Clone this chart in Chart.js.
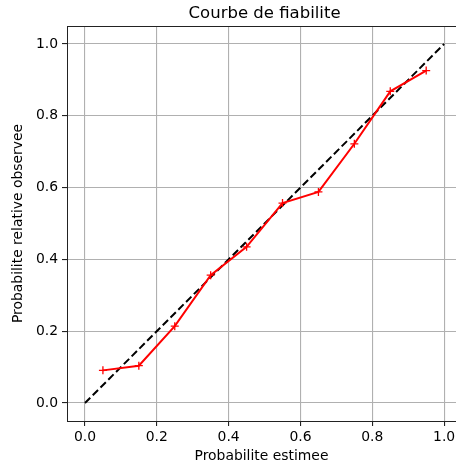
<!DOCTYPE html>
<html>
<head>
<meta charset="utf-8">
<script src="https://cdn.jsdelivr.net/npm/chart.js@4/dist/chart.umd.min.js"></script>
<style>
  html, body { margin: 0; padding: 0; background: #fff; }
  #wrap { width: 456px; height: 466px; }
</style>
</head>
<body>
<div id="wrap"><canvas id="chart" width="456" height="466"></canvas></div>
<script>
// donnees
const binCenters = [0.05, 0.15, 0.25, 0.35, 0.45, 0.55, 0.65, 0.75, 0.85, 0.95];
const observed = [0.091, 0.104, 0.214, 0.356, 0.435, 0.557, 0.588, 0.722, 0.868, 0.926];
const diagX = [0, 1];
const diagY = [0, 1];
const tickValues = [0, 0.2, 0.4, 0.6, 0.8, 1.0];

const titleText = 'Courbe de fiabilite';
const xLabel = 'Probabilite estimee';
const yLabel = 'Probabilite relative observee';

const FONT = 'DejaVu Sans';

// cadre du haut + titre centre sur les axes
const framePlugin = {
    id: 'frame',
    afterDraw(chart) {
        const { ctx, chartArea, scales } = chart;
        ctx.save();
        ctx.strokeStyle = '#222';
        ctx.lineWidth = 1;
        ctx.beginPath();
        ctx.moveTo(chartArea.left, chartArea.top + 0.5);
        ctx.lineTo(chartArea.right, chartArea.top + 0.5);
        ctx.stroke();

        ctx.fillStyle = '#000';
        ctx.font = '16.5px "' + FONT + '"';
        ctx.textAlign = 'center';
        ctx.textBaseline = 'alphabetic';
        ctx.fillText(titleText, scales.x.getPixelForValue(0.5), chartArea.top - 8);
        ctx.restore();
    }
};

function setTicks(scale) {
    scale.ticks = tickValues.map(v => ({ value: v }));
}

const ctx = document.getElementById('chart').getContext('2d');
new Chart(ctx, {
    type: 'line',
    data: {
        datasets: [
            {
                label: 'diagonale',
                data: diagX.map((x, i) => ({ x: x, y: diagY[i] })),
                borderColor: '#000',
                borderWidth: 2,
                borderDash: [7.5, 3.5],
                pointRadius: 0,
                fill: false,
                order: 2
            },
            {
                label: 'fiabilite',
                data: binCenters.map((x, i) => ({ x: x, y: observed[i] })),
                borderColor: '#ff0000',
                borderWidth: 2,
                pointStyle: 'cross',
                pointRadius: 4,
                pointBorderWidth: 1.3,
                pointBorderColor: '#ff0000',
                pointBackgroundColor: '#ff0000',
                fill: false,
                order: 1
            }
        ]
    },
    options: {
        responsive: false,
        animation: false,
        layout: { autoPadding: false, padding: { top: 26, right: 0, left: 0, bottom: 0 } },
        plugins: {
            legend: { display: false },
            tooltip: { enabled: false },
            title: { display: false }
        },
        scales: {
            x: {
                type: 'linear',
                min: -0.05,
                max: 1.033,
                afterBuildTicks: setTicks,
                afterFit: s => { s.height = 45; s.paddingRight = 0; s.paddingLeft = 0; },
                grid: {
                    color: '#b0b0b0',
                    lineWidth: 1.1,
                    tickColor: '#222',
                    tickLength: 5,
                    drawTicks: true
                },
                border: { color: '#222', width: 1 },
                ticks: {
                    color: '#000',
                    padding: 3,
                    font: { family: FONT, size: 13.9 },
                    callback: v => v.toFixed(1)
                },
                title: {
                    display: true,
                    text: xLabel,
                    color: '#000',
                    font: { family: FONT, size: 13.9 },
                    padding: { top: 0, bottom: 1 }
                }
            },
            y: {
                type: 'linear',
                min: -0.05,
                max: 1.05,
                afterBuildTicks: setTicks,
                afterFit: s => { s.width = 67; s.paddingTop = 0; s.paddingBottom = 0; },
                grid: {
                    color: '#b0b0b0',
                    lineWidth: 1.1,
                    tickColor: '#222',
                    tickLength: 5,
                    drawTicks: true
                },
                border: { color: '#222', width: 1 },
                ticks: {
                    color: '#000',
                    padding: 4,
                    font: { family: FONT, size: 13.9 },
                    callback: v => v.toFixed(1)
                },
                title: {
                    display: true,
                    text: yLabel,
                    color: '#000',
                    font: { family: FONT, size: 13.9 },
                    padding: { top: 10, bottom: 0 }
                }
            }
        }
    },
    plugins: [framePlugin]
});
</script>
</body>
</html>
